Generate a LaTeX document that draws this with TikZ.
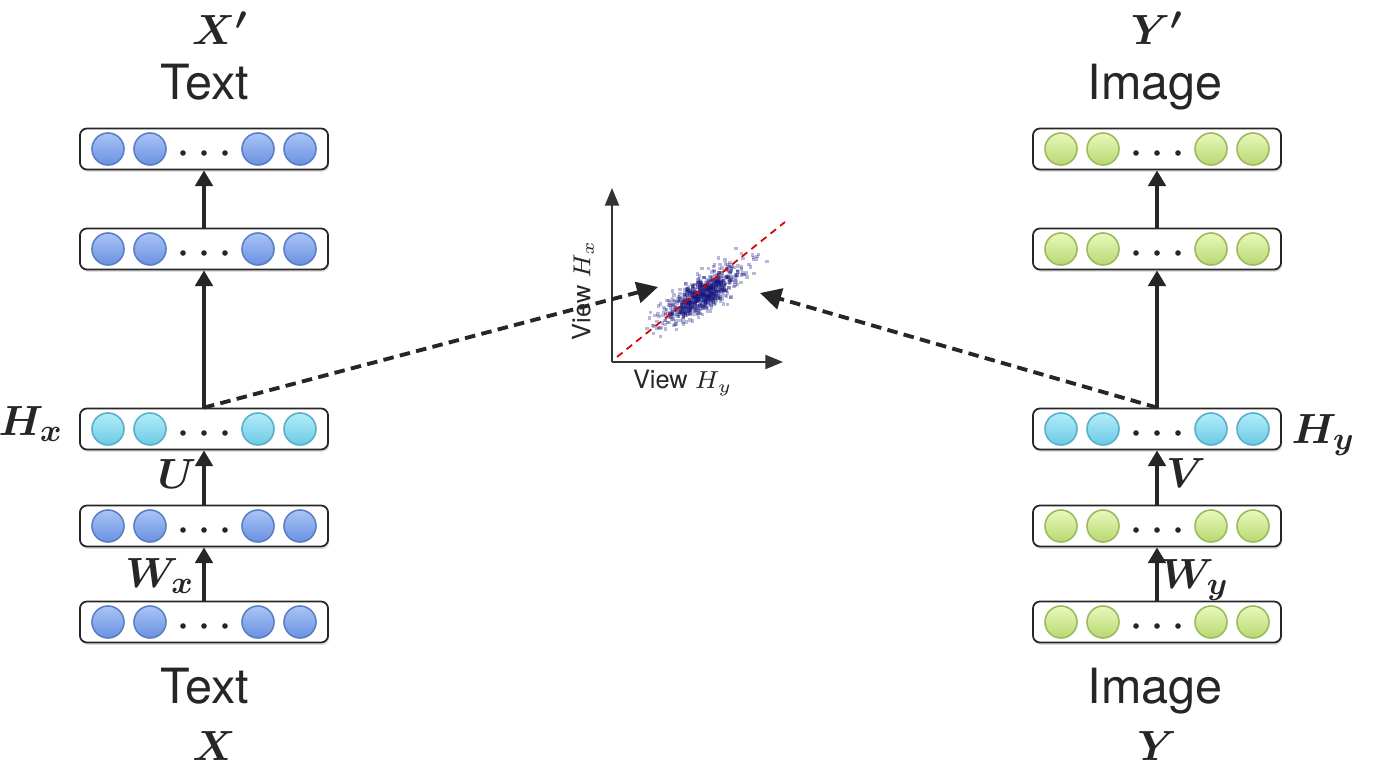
\documentclass[tikz,border=0pt]{standalone}
\usepackage{amsmath}
\usepackage{fontspec}
\setsansfont{TeX Gyre Heros}
\usetikzlibrary{arrows.meta, calc, positioning, shadows}
\definecolor{balltopblue}{HTML}{A9C4F6}
\definecolor{ballbotblue}{HTML}{6A91E0}
\definecolor{balledgeblue}{HTML}{5A7FC6}
\definecolor{balltopcyan}{HTML}{B2EDF9}
\definecolor{ballbotcyan}{HTML}{6CC9E4}
\definecolor{balledgecyan}{HTML}{5AAFCB}
\definecolor{balltopgreen}{HTML}{EAF8BC}
\definecolor{ballbotgreen}{HTML}{B8D872}
\definecolor{balledgegreen}{HTML}{9BBB5C}
\definecolor{cloudnavy}{HTML}{14147F}

\begin{document}
\begin{tikzpicture}[
        x=0.01cm,
        y=-0.01cm,
        layerbox/.style={
            draw=black!85,
            line width=0.5pt,
            rounded corners=2pt,
            fill=white,
            minimum width=2.48cm,
            minimum height=0.41cm,
            inner sep=0pt,
            drop shadow={shadow xshift=0.3pt, shadow yshift=-0.7pt, opacity=0.25}
        },
        unitball/.style={
            circle,
            minimum size=0.32cm,
            inner sep=0pt,
            line width=0.45pt
        },
        blueball/.style={unitball, top color=balltopblue, bottom color=ballbotblue, draw=balledgeblue},
        cyanball/.style={unitball, top color=balltopcyan, bottom color=ballbotcyan, draw=balledgecyan},
        greenball/.style={unitball, top color=balltopgreen, bottom color=ballbotgreen, draw=balledgegreen},
        uparrow/.style={
            draw=black!85,
            line width=1.1pt,
            -{Triangle[width=5pt,length=4.5pt]}
        },
        viewarrow/.style={
            draw=black!85,
            line width=1.1pt,
            dash pattern=on 3pt off 1.8pt,
            -{Triangle[width=6pt,length=6pt]}
        },
        plotaxis/.style={
            draw=black!80,
            line width=0.5pt,
            -{Triangle[width=4pt,length=5pt]}
        },
        cloudpt/.style={
            fill=cloudnavy,
            fill opacity=0.3
        },
        bigtext/.style={
            font=\sffamily\fontsize{13.8}{16}\selectfont,
            text=black!85,
            anchor=base,
            inner sep=0pt
        },
        mathlbl/.style={
            font=\fontsize{13}{15}\selectfont,
            text=black!85,
            anchor=base,
            inner sep=0pt
        },
        viewlbl/.style={
            font=\sffamily\fontsize{7.2}{9}\selectfont,
            text=black!85,
            inner sep=0pt
        }
    ]

        \useasboundingbox (0,0) rectangle (1376,782);

        % Text side: layers
        \foreach \nm/\yy/\col in {tout/149/blue, trec/249/blue, thx/429/cyan, thid/526/blue, tin/622/blue}{
            \node[layerbox] (\nm) at (204,\yy) {};
            \foreach \dx in {-96,-54,54,96}
                \node[\col ball] at (204+\dx,\yy) {};
            \foreach \dx in {-21,0,21}
                \fill[black!85] (204+\dx,\yy+4) circle (2.8);
        }

        % Image side: layers
        \foreach \nm/\yy/\col in {iout/149/green, irec/249/green, ihy/429/cyan, ihid/526/green, iin/622/green}{
            \node[layerbox] (\nm) at (1157,\yy) {};
            \foreach \dx in {-96,-54,54,96}
                \node[\col ball] at (1157+\dx,\yy) {};
            \foreach \dx in {-21,0,21}
                \fill[black!85] (1157+\dx,\yy+4) circle (2.8);
        }

        % Vertical connections
        \draw[uparrow] (tin.north) -- (thid.south);
        \draw[uparrow] (thid.north) -- (thx.south);
        \draw[uparrow] (thx.north) -- (trec.south);
        \draw[uparrow] (trec.north) -- (tout.south);
        \draw[uparrow] (iin.north) -- (ihid.south);
        \draw[uparrow] (ihid.north) -- (ihy.south);
        \draw[uparrow] (ihy.north) -- (irec.south);
        \draw[uparrow] (irec.north) -- (iout.south);

        % Weights and shared representations
        \node[mathlbl, anchor=base east] (lhx) at (64,435) {$\boldsymbol{H_x}$};
        \node[mathlbl] (lu) at (177,488) {$\boldsymbol{U}$};
        \node[mathlbl] (lwx) at (160,587) {$\boldsymbol{W_x}$};
        \node[mathlbl, anchor=base west] (lhy) at (1291,443) {$\boldsymbol{H_y}$};
        \node[mathlbl] (lv) at (1186,487) {$\boldsymbol{V}$};
        \node[mathlbl] (lwy) at (1195,588) {$\boldsymbol{W_y}$};

        % Inputs and reconstructions
        \node[mathlbl] (xrec) at (220,45) {$\boldsymbol{X'}$};
        \node[bigtext] (trectxt) at (205,100) {Text};
        \node[bigtext] (tintxt) at (205,703) {Text};
        \node[mathlbl] (xin) at (214,760) {$\boldsymbol{X}$};
        \node[mathlbl] (yrec) at (1157,45) {$\boldsymbol{Y'}$};
        \node[bigtext] (irectxt) at (1155,100) {Image};
        \node[bigtext] (iintxt) at (1155,703) {Image};
        \node[mathlbl] (yin) at (1157,760) {$\boldsymbol{Y}$};

        % Scatter of the two views
        \pgfmathsetseed{11}
        \foreach \i in {1,...,800}{
            \pgfmathsetmacro{\rr}{sqrt(-2*ln(0.002+0.998*rnd))}
            \pgfmathsetmacro{\aa}{360*rnd}
            \pgfmathsetmacro{\uu}{22*\rr*cos(\aa)}
            \pgfmathsetmacro{\vv}{7.5*\rr*sin(\aa)}
            \fill[cloudpt] ({701+0.82*\uu+0.57*\vv},{292-0.57*\uu+0.82*\vv}) rectangle ++(3.5,3.5);
        }
        \coordinate (orig) at (612,362);
        \draw[plotaxis] (orig) -- (612,188);
        \draw[plotaxis] (orig) -- (783,362);
        \draw[red!85!black, line width=0.5pt, dash pattern=on 2pt off 1.5pt]
            (617,357) -- (785,222);
        \node[viewlbl, rotate=90] (vhx) at (583,290) {View $H_x$};
        \node[viewlbl] (vhy) at (683,383) {View $H_y$};

        % Views into the plot
        \coordinate (hitx) at (658,287);
        \coordinate (hity) at (760,293);
        \draw[viewarrow] (thx.north) -- (hitx);
        \draw[viewarrow] (ihy.north) -- (hity);

\end{tikzpicture}
\end{document}
